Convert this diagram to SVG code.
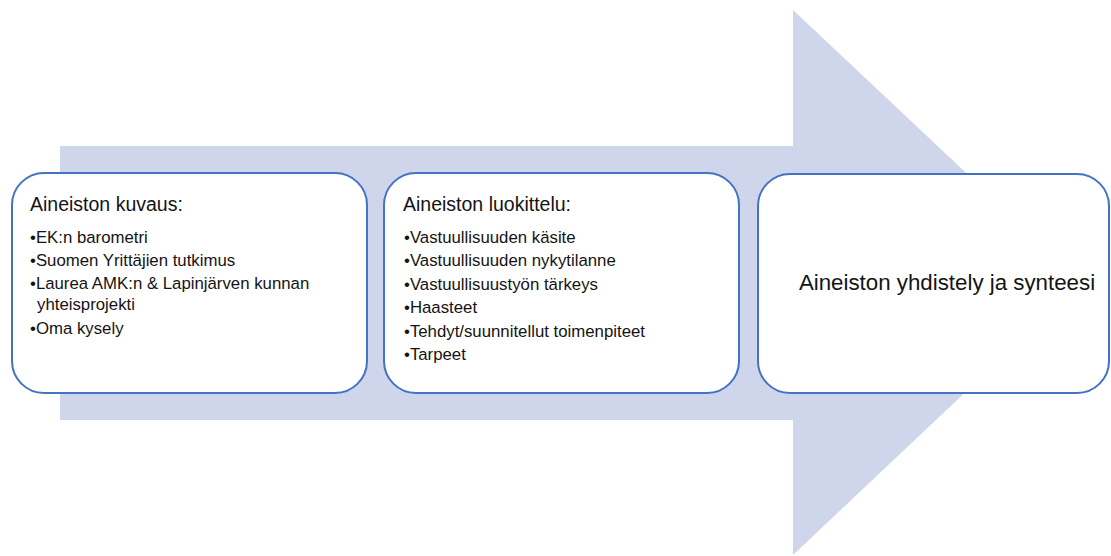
<svg xmlns="http://www.w3.org/2000/svg" width="1111" height="556" viewBox="0 0 1111 556">
  <style>
    .flow { fill: #CFD5EA; }
    .box { fill: #FFFFFF; stroke: #4472C4; stroke-width: 2; }
    text { font-family: "Liberation Sans", Arial, sans-serif; fill: #141414; }
    .title { font-size: 19.5px; }
    .item { font-size: 16.8px; }
    .center { font-size: 22.3px; text-anchor: middle; }
  </style>

  <!-- background process arrow -->
  <g id="connectors">
    <polygon class="flow" points="60,146 793,146 793,10 1082,282 793,555 793,420 60,420"/>
  </g>

  <g id="node-kuvaus">
    <rect class="box" x="12" y="173" width="355" height="220" rx="32" ry="32"/>
    <text class="title" x="30" y="211">Aineiston kuvaus:</text>
    <text class="item" x="30" y="243">•EK:n barometri</text>
    <text class="item" x="30" y="266">•Suomen Yrittäjien tutkimus</text>
    <text class="item" x="30" y="289">•Laurea AMK:n &amp; Lapinjärven kunnan</text>
    <text class="item" x="37" y="310">yhteisprojekti</text>
    <text class="item" x="30" y="334">•Oma kysely</text>
  </g>

  <g id="node-luokittelu">
    <rect class="box" x="384" y="173" width="355" height="220" rx="32" ry="32"/>
    <text class="title" x="403" y="211">Aineiston luokittelu:</text>
    <text class="item" x="404" y="243">•Vastuullisuuden käsite</text>
    <text class="item" x="404" y="266">•Vastuullisuuden nykytilanne</text>
    <text class="item" x="404" y="290">•Vastuullisuustyön tärkeys</text>
    <text class="item" x="404" y="313">•Haasteet</text>
    <text class="item" x="404" y="337">•Tehdyt/suunnitellut toimenpiteet</text>
    <text class="item" x="404" y="360">•Tarpeet</text>
  </g>

  <g id="node-synteesi">
    <rect class="box" x="758" y="174" width="351" height="219" rx="32" ry="32"/>
    <text class="center" x="947" y="290">Aineiston yhdistely ja synteesi</text>
  </g>
</svg>
